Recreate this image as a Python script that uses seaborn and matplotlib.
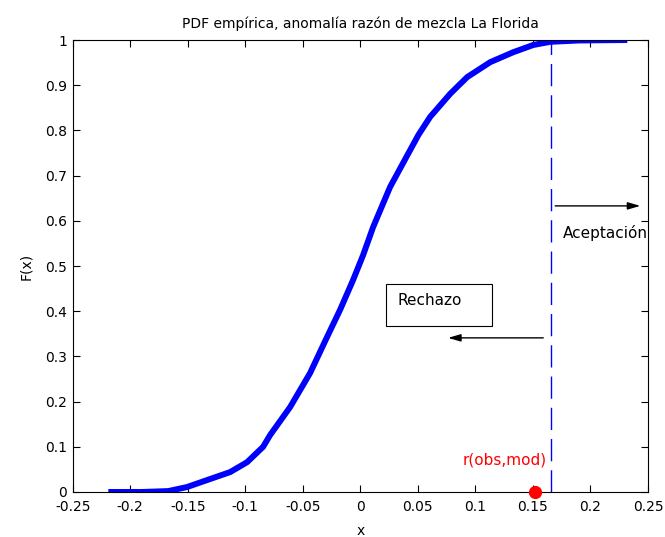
import matplotlib
matplotlib.use("Agg")
import matplotlib.pyplot as plt
from matplotlib.patches import Rectangle
import seaborn as sns
import pandas as pd

# Empirical CDF of the mixing-ratio anomaly (x, F(x))
x_vals = [-0.219, -0.190, -0.167, -0.1506, -0.128, -0.1132, -0.0984, -0.0845,
          -0.0784, -0.061, -0.0437, -0.0289, -0.0176, -0.0063, 0.0024, 0.0111,
          0.0259, 0.0402, 0.0505, 0.0607, 0.0781, 0.0929, 0.1129, 0.1329,
          0.1503, 0.1651, 0.190, 0.232]
f_vals = [0.0, 0.0, 0.002, 0.011, 0.031, 0.044, 0.066, 0.100,
          0.126, 0.188, 0.263, 0.343, 0.403, 0.469, 0.524, 0.586,
          0.675, 0.742, 0.790, 0.830, 0.881, 0.918, 0.951, 0.973,
          0.989, 0.996, 0.999, 1.0]

threshold = 0.166          # critical value separating the regions
r_obs_mod = 0.152          # observed correlation r(obs,mod)

x_ticks = [-0.25, -0.2, -0.15, -0.1, -0.05, 0, 0.05, 0.1, 0.15, 0.2, 0.25]
x_tick_labels = ["-0.25", "-0.2", "-0.15", "-0.1", "-0.05", "0", "0.05",
                 "0.1", "0.15", "0.2", "0.25"]
y_ticks = [0, 0.1, 0.2, 0.3, 0.4, 0.5, 0.6, 0.7, 0.8, 0.9, 1]
y_tick_labels = ["0", "0.1", "0.2", "0.3", "0.4", "0.5", "0.6", "0.7",
                 "0.8", "0.9", "1"]

sns.set_theme(style="white")
plt.rcParams["font.family"] = ["DejaVu Sans"]
plt.rcParams["font.size"] = 10
plt.rcParams["text.color"] = "black"
plt.rcParams["axes.labelcolor"] = "black"
plt.rcParams["axes.titlecolor"] = "black"

fig = plt.figure(figsize=(6.65, 5.37), dpi=100)
ax = fig.add_axes([0.1093, 0.0838, 0.8651, 0.8417])

df = pd.DataFrame({"x": x_vals, "F": f_vals})
sns.lineplot(data=df, x="x", y="F", ax=ax, color="#0000ff", linewidth=4.3,
             sort=False, estimator=None, solid_capstyle="butt",
             solid_joinstyle="round")

# critical value
ax.plot([threshold, threshold], [0, 1], color="#0000ff", linewidth=1.0,
        dashes=(16, 6.5))

# observed statistic
ax.plot([r_obs_mod], [0], "o", color="red", markersize=8.5, clip_on=False,
        zorder=5)
ax.text(0.1616, 0.071, "r(obs,mod)", color="red", fontsize=11,
        ha="right", va="center")

# region arrows and labels
arrow_kw = dict(arrowstyle="-|>,head_length=0.75,head_width=0.22",
                color="black", lw=1.0, shrinkA=0, shrinkB=0)
ax.annotate("", xy=(0.2433, 0.633), xytext=(0.1694, 0.633),
            arrowprops=arrow_kw)
ax.annotate("", xy=(0.0763, 0.341), xytext=(0.159, 0.341),
            arrowprops=arrow_kw)
ax.text(0.1764, 0.573, "Aceptación", fontsize=11, ha="left", va="center")
ax.add_patch(Rectangle((0.0224, 0.367), 0.0922, 0.093, facecolor="white",
                       edgecolor="black", linewidth=0.8, zorder=3))
ax.text(0.032, 0.4226, "Rechazo", fontsize=11, ha="left", va="center",
        zorder=4)

ax.set_xlim(-0.25, 0.25)
ax.set_ylim(0, 1)
ax.set_xticks(x_ticks)
ax.set_xticklabels(x_tick_labels)
ax.set_yticks(y_ticks)
ax.set_yticklabels(y_tick_labels)
ax.tick_params(direction="in", length=5, width=0.8, top=True, right=True,
               bottom=True, left=True, labelsize=10, colors="black")
ax.tick_params(axis="x", pad=6)
ax.tick_params(axis="y", pad=4)
for s in ax.spines.values():
    s.set_visible(True)
    s.set_color("black")
    s.set_linewidth(0.8)

ax.set_xlabel("x", fontsize=10, labelpad=7)
ax.set_ylabel("F(x)", fontsize=10, labelpad=9)
ax.set_title("PDF empírica, anomalía razón de mezcla La Florida",
             fontsize=10, pad=9)

fig.savefig("out.png", dpi=100)
